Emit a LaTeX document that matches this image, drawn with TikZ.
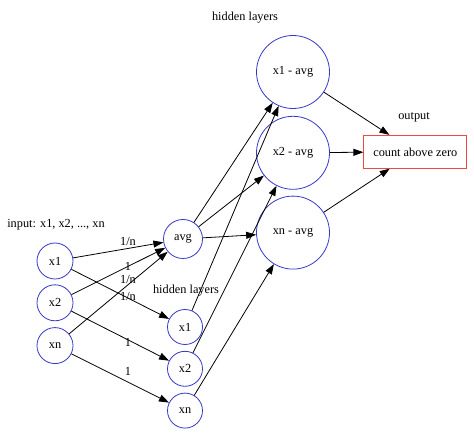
\documentclass[tikz,border=0pt]{standalone}
\usepackage{fontspec}
\setmainfont{Liberation Serif}
\usetikzlibrary{
arrows.meta,
positioning,
shapes
}
\definecolor{nodeblue}{RGB}{55,55,200}
\definecolor{boxred}{RGB}{240,70,70}

\begin{document}
\begin{tikzpicture}[
    x=1pt, y=-1pt,
    font=\rmfamily\fontsize{12.3}{14}\selectfont,
    line width=0.8pt,
    >={Triangle[length=10pt,width=7pt]},
    neuron/.style={draw=nodeblue, circle, inner sep=0pt},
    inp/.style={neuron, minimum size=36pt},
    hid/.style={neuron, minimum size=35pt},
    diff/.style={neuron, minimum size=73pt},
    outbox/.style={draw=boxred, rectangle, minimum width=103pt, minimum height=33pt},
    lbl/.style={inner sep=0pt},
    wt/.style={inner sep=0pt}]
  \useasboundingbox (0,0) rectangle (474,438);
  % input column
  \node[inp] (x1) at (55,261) {x1};
  \node[inp, below=5pt of x1] (x2) {x2};
  \node[inp, below=6pt of x2] (xn) {xn};
  \node[lbl] (T1) at (56,225) {input: x1, x2, ..., xn};
  % first hidden layer
  \node[neuron, minimum size=39pt] (avg) at (183,239) {avg};
  \node[hid] (h1) at (185,327) {x1};
  \node[hid, below=6pt of h1] (h2) {x2};
  \node[hid, below=6pt of h2] (hn) {xn};
  \node[lbl] (T2) at (186,291) {hidden layers};
  % second hidden layer
  \node[diff] (d1) at (293,72) {x1 - avg};
  \node[diff, below=7pt of d1] (d2) {x2 - avg};
  \node[diff, below=6pt of d2] (dn) {xn - avg};
  \node[lbl] (T3) at (245,18) {hidden layers};
  % output
  \node[outbox, right=33.5pt of d2.east, anchor=west, yshift=1pt] (out) {count above zero};
  \node[lbl] (T4) at (414,117) {output};
  % weights
  \node[wt] (w1) at (128,242) {1/n};
  \node[wt] (w2) at (128,266) {1};
  \node[wt] (w3) at (128,280) {1/n};
  \node[wt] (w4) at (128,297) {1/n};
  \node[wt] (w5) at (128,342) {1};
  \node[wt] (w6) at (128,371) {1};
  \path[every edge/.style={draw, ->}]
      (x1) edge (avg)
      (x2) edge (avg)
      (xn) edge (avg)
      (x1) edge (h1)
      (x2) edge (h2)
      (xn) edge (hn)
      (avg) edge (d1)
      (avg) edge (d2)
      (avg) edge (dn)
      (h1) edge (d1)
      (h2) edge (d2)
      (hn) edge (dn)
      (d1) edge (out)
      (d2) edge (out)
      (dn) edge (out);
\end{tikzpicture}
\end{document}
